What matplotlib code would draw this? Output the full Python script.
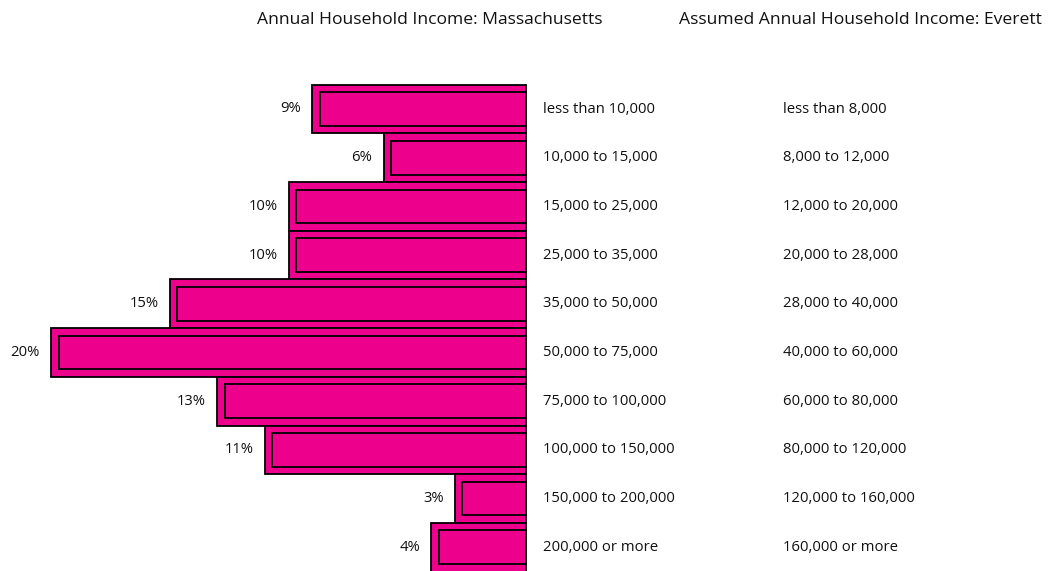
import matplotlib.pyplot as plt

plt.rcParams['font.family'] = ['Open Sans', 'DejaVu Sans']

# household income distribution, share of households per bracket
ma_brackets = ['less than 10,000', '10,000 to 15,000', '15,000 to 25,000',
               '25,000 to 35,000', '35,000 to 50,000', '50,000 to 75,000',
               '75,000 to 100,000', '100,000 to 150,000', '150,000 to 200,000',
               '200,000 or more']
everett_brackets = ['less than 8,000', '8,000 to 12,000', '12,000 to 20,000',
                    '20,000 to 28,000', '28,000 to 40,000', '40,000 to 60,000',
                    '60,000 to 80,000', '80,000 to 120,000', '120,000 to 160,000',
                    '160,000 or more']
shares = [9, 6, 10, 10, 15, 20, 13, 11, 3, 4]

PINK = '#EC008C'
W, H = 1049, 571
px_per_pct = 23.75
row_px = 48.7
x0_px = 526
y0_px = 109

fig = plt.figure(figsize=(W / 100, H / 100), dpi=100)
ax = fig.add_axes([0, 0, 1, 1])
ax.set_xlim(x0_px / px_per_pct, -(W - x0_px) / px_per_pct)
ax.set_ylim((H - y0_px) / row_px, -y0_px / row_px)
ax.axis('off')

ys = list(range(len(shares)))
inset_x = 7.5 / px_per_pct
inset_y = 7.5 / row_px

# outer bars, then a thin inner frame inside each
ax.barh(ys, shares, height=1.0, color=PINK, edgecolor='black', linewidth=1.3)
ax.barh(ys, [s - inset_x for s in shares], height=1 - 2 * inset_y,
        color='none', edgecolor='black', linewidth=1.3)

for y, s, a, b in zip(ys, shares, ma_brackets, everett_brackets):
    ax.annotate(f'{s}%', (s, y), xytext=(-8, 0), textcoords='offset points',
                ha='right', va='center', fontsize=10.75, color='#111111')
    ax.text(543 / W, 1 - (y0_px + y * row_px) / H, a, transform=ax.transAxes,
            ha='left', va='center', fontsize=10.75, color='#111111')
    ax.text(783 / W, 1 - (y0_px + y * row_px) / H, b, transform=ax.transAxes,
            ha='left', va='center', fontsize=10.75, color='#111111')

fig.text(430 / W, 1 - 20 / H, 'Annual Household Income: Massachusetts',
         ha='center', va='center', fontsize=12.6, color='#111111')
fig.text(860 / W, 1 - 20 / H, 'Assumed Annual Household Income: Everett',
         ha='center', va='center', fontsize=12.6, color='#111111')

fig.savefig('out.png', dpi=100)
